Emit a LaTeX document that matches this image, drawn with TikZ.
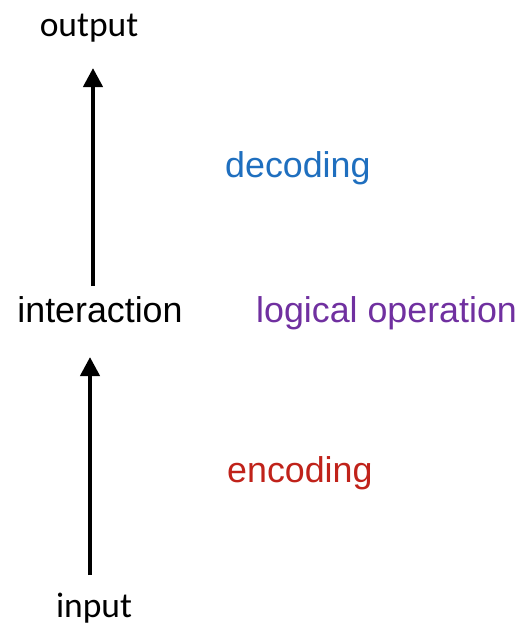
\documentclass[tikz,border=0pt]{standalone}
\usepackage{fontspec}
\setmainfont{Liberation Sans}
\newfontfamily\calib{Carlito}
\usetikzlibrary{arrows.meta}
\definecolor{decblue}{HTML}{1F6FBF}
\definecolor{logpurple}{HTML}{7030A0}
\definecolor{encred}{HTML}{C0221A}
\begin{document}
\begin{tikzpicture}[x=1pt,y=-1pt,
  lbl/.style={anchor=base west,inner sep=0pt,font=\fontsize{35.8}{40}\selectfont},
  stage/.style={anchor=base,inner sep=0pt,font=\fontsize{35.8}{40}\selectfont},
  uparrow/.style={line width=4.2pt,-{Triangle[width=19pt,length=19pt]}}]
\useasboundingbox[fill=white] (0,0) rectangle (523,630);

% stages
\node[stage,font=\calib\fontsize{35.5}{40}\selectfont] (out) at (89,36) {output};
\node[stage] (inter) at (100,322) {interaction};
\node[stage,font=\calib\fontsize{35.5}{40}\selectfont] (in) at (94,617) {input};

% arrow ends
\coordinate (a1s) at (90,575);
\coordinate (a1e) at (90,357);
\coordinate (a2s) at (93,286);
\coordinate (a2e) at (93,68);

\draw[uparrow] (a1s) -- (a1e);
\draw[uparrow] (a2s) -- (a2e);

% side labels
\node[lbl,text=decblue] (dec) at (225,177) {decoding};
\node[lbl,text=logpurple] (logic) at (256,322) {logical operation};
\node[lbl,text=encred] (enc) at (227,482) {encoding};
\end{tikzpicture}
\end{document}
